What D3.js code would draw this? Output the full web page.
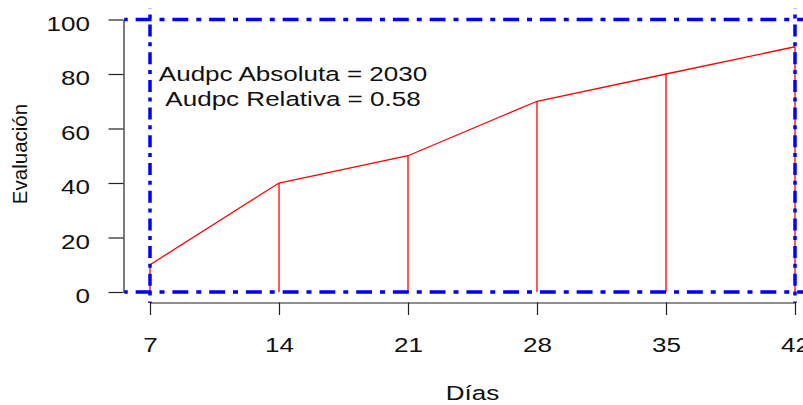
<!DOCTYPE html>
<html>
<head>
<meta charset="utf-8">
<script src="https://cdn.jsdelivr.net/npm/d3@7"></script>
<style>
  html, body { margin: 0; padding: 0; background: #fff; }
  svg { display: block; }
  text { font-family: "Liberation Sans", Arial, sans-serif; fill: #111; }
</style>
</head>
<body>
<script>
// Disease progress readings
const dias = [7, 14, 21, 28, 35, 42];
const evaluacion = [10, 40, 50, 70, 80, 90];
const yTicks = [0, 20, 40, 60, 80, 100];
const xTicks = [7, 14, 21, 28, 35, 42];
const refLevels = [0, 100];          // horizontal reference lines
const refDays = [7, 42];             // vertical reference lines

// Area under the disease progress curve (trapezoids)
let audpcAbs = 0;
for (let i = 1; i < dias.length; i++) {
  audpcAbs += (evaluacion[i] + evaluacion[i - 1]) / 2 * (dias[i] - dias[i - 1]);
}
const audpcRel = audpcAbs / ((dias[dias.length - 1] - dias[0]) * 100);

const W = 803, H = 405;
const FS = 20.5, SX = 1.27;

const svg = d3.select("body").append("svg").attr("width", W).attr("height", H);

const x = d3.scaleLinear().domain([7, 42]).range([150, 795]);
const y = d3.scaleLinear().domain([0, 100]).range([292, 19.5]);
const xPad = (42 - 7) * 0.04, yPad = 100 * 0.04;
const xr = [7 - xPad, 42 + xPad], yr = [0 - yPad, 100 + yPad];

// Curve and vertical drop lines
const red = "#ff0000";
svg.append("path")
  .datum(dias.map((d, i) => [d, evaluacion[i]]))
  .attr("fill", "none").attr("stroke", red).attr("stroke-width", 1.3)
  .attr("d", d3.line().x(d => x(d[0])).y(d => y(d[1])));
svg.selectAll("line.drop").data(dias).join("line").attr("class", "drop")
  .attr("x1", d => x(d)).attr("x2", d => x(d))
  .attr("y1", y(0)).attr("y2", (d, i) => y(evaluacion[i]))
  .attr("stroke", red).attr("stroke-width", 1.3);

// Dot-dash reference lines
const blue = "#0000ff";
svg.selectAll("line.href").data(refLevels).join("line").attr("class", "href")
  .attr("x1", x(xr[0])).attr("x2", x(xr[1]))
  .attr("y1", d => y(d)).attr("y2", d => y(d))
  .attr("stroke", blue).attr("stroke-width", 3.5)
  .attr("stroke-dasharray", "5,7.9,15.9,7.95").attr("stroke-dashoffset", 1.45);
svg.selectAll("line.vref").data(refDays).join("line").attr("class", "vref")
  .attr("x1", d => x(d)).attr("x2", d => x(d))
  .attr("y1", y(yr[1])).attr("y2", y(yr[0]))
  .attr("stroke", blue).attr("stroke-width", 3.5)
  .attr("stroke-dasharray", "4,6,12,5.7").attr("stroke-dashoffset", 21.8);

// Axes
const axisColor = "#222";
const gy = svg.append("g").attr("transform", "translate(123.5,0)")
  .call(d3.axisLeft(y).tickValues(yTicks).tickSize(15).tickSizeOuter(0));
const gx = svg.append("g").attr("transform", "translate(0,302.5)")
  .call(d3.axisBottom(x).tickValues(xTicks).tickSize(12.5).tickSizeOuter(0));
[gy, gx].forEach(g => {
  g.select(".domain").attr("stroke", axisColor).attr("stroke-width", 1.2);
  g.selectAll(".tick line").attr("stroke", axisColor).attr("stroke-width", 1.2);
  g.selectAll("text").attr("font-family", null).attr("font-size", FS).attr("fill", "#111");
});
gy.selectAll(".tick text")
  .attr("x", -33.5 / SX).attr("dy", null).attr("y", 10.7)
  .attr("transform", `scale(${SX},1)`);
gx.selectAll(".tick text")
  .attr("y", 49.5).attr("dy", null)
  .attr("transform", `scale(${SX},1)`);

// Axis titles
svg.append("text")
  .attr("transform", `translate(${(x(xr[0]) + x(xr[1])) / 2},400) scale(${SX},1)`)
  .attr("text-anchor", "middle").attr("font-size", FS).text("Días");
svg.append("text")
  .attr("transform", `translate(27,154) rotate(-90)`)
  .attr("text-anchor", "middle").attr("font-size", FS).text("Evaluación");

// AUDPC annotation
const notes = [
  `Audpc Absoluta = ${audpcAbs}`,
  `Audpc Relativa = ${d3.format(".2f")(audpcRel)}`
];
svg.selectAll("text.note").data(notes).join("text").attr("class", "note")
  .attr("transform", (d, i) => `translate(293,${81 + i * 25}) scale(${SX},1)`)
  .attr("text-anchor", "middle").attr("font-size", FS).text(d => d);
</script>
</body>
</html>
